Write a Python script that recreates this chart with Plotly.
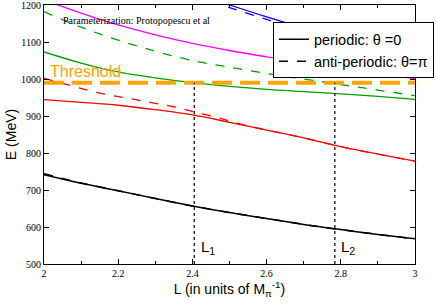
import plotly.graph_objects as go

# ---- data ----
L_black = [2.0, 2.1, 2.2, 2.3, 2.4, 2.5, 2.6, 2.7, 2.8, 2.9, 3.0]
E_black_p = [741, 718, 698, 677, 657, 639, 623, 607, 593, 580, 568]
L_black_ap = [2.0, 2.05, 2.1, 2.2, 2.3, 2.4, 2.5, 2.6, 2.7, 2.8, 2.9, 3.0]
E_black_ap = [744, 731, 719, 698, 677, 657, 639, 623, 607, 593, 580, 568]

L_red = [2.0, 2.1, 2.2, 2.3, 2.4, 2.5, 2.6, 2.7, 2.8, 2.9, 3.0]
E_red_p = [944, 937, 929, 917, 903, 883, 862, 841, 817, 797, 778]
L_red_ap = [2.0, 2.08, 2.15, 2.22, 2.29, 2.35, 2.405, 2.47, 2.53, 2.6, 2.7, 2.8, 2.9, 3.0]
E_red_ap = [1002, 980, 962, 949, 936, 925, 911, 895, 878, 862, 841, 817, 797, 778]

L_green = [2.0, 2.1, 2.2, 2.3, 2.4, 2.5, 2.6, 2.7, 2.8, 2.9, 3.0]
E_green_p = [1073, 1043, 1019, 1003, 990, 980, 972, 966, 960, 953, 945]
E_green_ap = [1182, 1140, 1105, 1075, 1050, 1032, 1015, 1000, 985, 970, 955]

L_mag = [2.0, 2.1, 2.2, 2.3, 2.4, 2.5, 2.6, 2.7, 2.8, 2.9, 3.0]
E_mag_p = [1214, 1178, 1146, 1119, 1096, 1077, 1060, 1044, 1030, 1015, 1001]

L_blue = [2.45, 2.5, 2.6, 2.7, 2.8, 2.9, 3.0]
E_blue_p = [1216, 1200, 1168, 1138, 1112, 1090, 1070]
E_blue_ap = [1209, 1193, 1161, 1131, 1105, 1083, 1063]

threshold = 990
L_marks = [2.405, 2.784]
L_mark_labels = ["L<sub>1</sub>", "L<sub>2</sub>"]

x_ticks = [2.0, 2.2, 2.4, 2.6, 2.8, 3.0]
x_tick_text = ["2", "2.2", "2.4", "2.6", "2.8", "3"]
y_ticks = [500, 600, 700, 800, 900, 1000, 1100, 1200]

GREEN = "#00a000"

fig = go.Figure()

def add(x, y, color, dash, width=1.3, name=None, show=False):
    fig.add_trace(go.Scatter(x=x, y=y, mode="lines", name=name, showlegend=show,
                             line=dict(color=color, dash=dash, width=width, shape="spline")))

add(L_mag, E_mag_p, "#ff00ff", "solid")
add(L_blue, E_blue_p, "#0000ff", "solid")
add(L_blue, E_blue_ap, "#0000ff", "dash")
add(L_green, E_green_ap, GREEN, "dash")
add(L_green, E_green_p, GREEN, "solid")
add(L_red_ap, E_red_ap, "#ff0000", "dash")
add(L_red, E_red_p, "#ff0000", "solid")

# threshold
fig.add_trace(go.Scatter(x=[2.0, 3.0], y=[threshold, threshold], mode="lines", showlegend=False,
                         line=dict(color="#ffa500", width=4, dash="20px,8px")))

# vertical dotted marks
for xm in L_marks:
    fig.add_trace(go.Scatter(x=[xm, xm], y=[500, threshold], mode="lines", showlegend=False,
                             line=dict(color="black", width=1.2, dash="dot")))

add(L_black_ap, E_black_ap, "black", "dash", 1.5, "anti-periodic: θ=π", True)
add(L_black, E_black_p, "black", "solid", 1.5, "periodic: θ =0", True)

fig.data[-1].legendrank = 1
fig.data[-2].legendrank = 2

for xm, lab in zip(L_marks, L_mark_labels):
    fig.add_annotation(x=xm + 0.012, y=545, text=lab, showarrow=False, xanchor="left",
                       yanchor="middle", font=dict(family="Liberation Sans", size=15, color="black"))

fig.add_annotation(x=2.01, y=1020, text="Threshold", showarrow=False, xanchor="left",
                   yanchor="middle", font=dict(family="Liberation Sans", size=16, color="#ffa500"))
fig.add_annotation(x=2.248, y=1159, text="Parameterization: Protopopescu et al", showarrow=False,
                   xanchor="center", yanchor="middle",
                   font=dict(family="Liberation Serif", size=10, color="black"))

fig.update_layout(
    width=436, height=304,
    margin=dict(l=44, r=21, t=5, b=40, autoexpand=False),
    paper_bgcolor="white", plot_bgcolor="white",
    showlegend=True,
    legend=dict(x=1.051, y=0.933, xanchor="right", yanchor="top",
                bgcolor="white", bordercolor="black", borderwidth=1,
                font=dict(family="Liberation Sans", size=14.5, color="black"),
                tracegroupgap=0, itemwidth=30),
    xaxis=dict(range=[2, 3], tickvals=x_ticks, ticktext=x_tick_text,
               ticks="inside", ticklen=5, tickcolor="black",
               minor=dict(dtick=0.1, ticks="inside", ticklen=3, tickcolor="black"),
               showline=True, linecolor="black", linewidth=1, mirror="ticks",
               showgrid=False, zeroline=False, ticklabeloverflow="allow",
               tickfont=dict(family="Liberation Serif", size=10, color="black"),
               title=dict(text="L (in units of M<sub>π</sub><sup>-1</sup>)", standoff=3,
                          font=dict(family="Liberation Sans", size=14, color="black"))),
    yaxis=dict(range=[500, 1200], tickvals=y_ticks,
               ticks="inside", ticklen=5, tickcolor="black",
               showline=True, linecolor="black", linewidth=1, mirror="ticks",
               showgrid=False, zeroline=False, ticklabeloverflow="allow",
               tickfont=dict(family="Liberation Serif", size=10, color="black"),
               title=dict(text="E (MeV)", standoff=1,
                          font=dict(family="Liberation Sans", size=14, color="black"))),
)

fig.write_html("out.html", config={"displayModeBar": False},
               post_script="document.body.style.margin='0px';")
